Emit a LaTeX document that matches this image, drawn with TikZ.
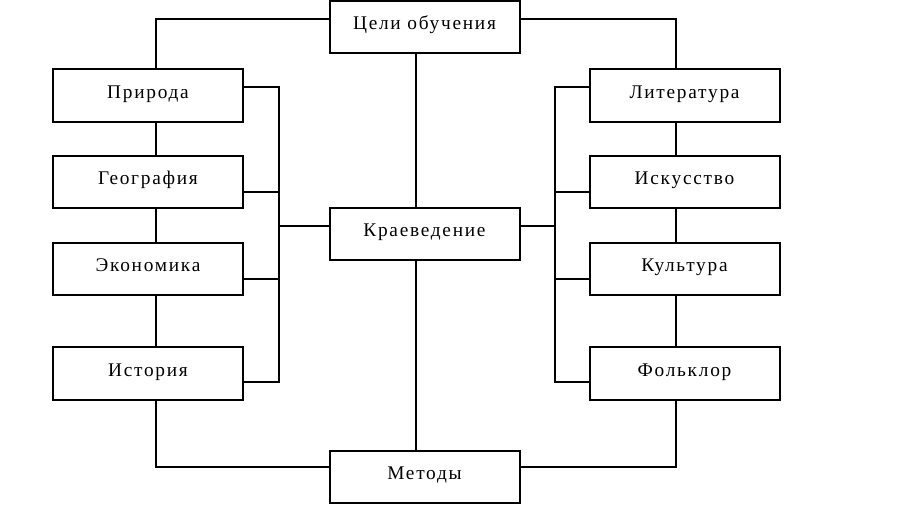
\documentclass[tikz,border=0pt]{standalone}
\usepackage{fontspec}
\setmainfont[LetterSpace=9]{Liberation Serif}
\begin{document}
\begin{tikzpicture}[x=0.75pt,y=-0.75pt,
  box/.style={draw,line width=1.5pt,rectangle,minimum width=142.5pt,minimum height=39.5pt,
    inner sep=0pt,text height=9.6pt,text depth=5.4pt,font=\fontsize{14.5}{17}\selectfont},
  conn/.style={line width=1.5pt}]
\useasboundingbox (0,0) rectangle (900,529);
\node[box] (goal) at (424.5,27) {Цели обучения};
\node[box] (kraev) at (424.5,234) {Краеведение};
\node[box] (met) at (424.5,477) {Методы};
\node[box] (pri) at (148,95.5) {Природа};
\node[box] (geo) at (148,182) {География};
\node[box] (eko) at (148,269) {Экономика};
\node[box] (ist) at (148,373.5) {История};
\node[box] (lit) at (684.5,95.5) {Литература};
\node[box] (isk) at (684.5,182) {Искусство};
\node[box] (kul) at (684.5,269) {Культура};
\node[box] (fol) at (684.5,373.5) {Фольклор};
\coordinate (lb) at (279,226);
\coordinate (rb) at (555,226);
% top
\draw[conn] (goal.west |- 0,19) -| (pri.north -| 156,0);
\draw[conn] (goal.east |- 0,19) -| (lit.north -| 676,0);
\draw[conn] (goal.south -| 416,0) -- (kraev.north -| 416,0);
\draw[conn] (kraev.south -| 416,0) -- (met.north -| 416,0);
% left column
\draw[conn] (pri.south -| 156,0) -- (geo.north -| 156,0);
\draw[conn] (geo.south -| 156,0) -- (eko.north -| 156,0);
\draw[conn] (eko.south -| 156,0) -- (ist.north -| 156,0);
\draw[conn] (ist.south -| 156,0) |- (met.west |- 0,467);
% right column
\draw[conn] (lit.south -| 676,0) -- (isk.north -| 676,0);
\draw[conn] (isk.south -| 676,0) -- (kul.north -| 676,0);
\draw[conn] (kul.south -| 676,0) -- (fol.north -| 676,0);
\draw[conn] (fol.south -| 676,0) |- (met.east |- 0,467);
% left bracket
\draw[conn] (pri.east |- 0,87) -| (lb |- 0,192) (lb |- 0,87) -- (lb |- 0,382) -- (ist.east |- 0,382);
\draw[conn] (geo.east |- 0,192) -- (lb |- 0,192);
\draw[conn] (eko.east |- 0,279) -- (lb |- 0,279);
\draw[conn] (lb) -- (kraev.west |- lb);
% right bracket
\draw[conn] (lit.west |- 0,87) -| (rb |- 0,192) (rb |- 0,87) -- (rb |- 0,382) -- (fol.west |- 0,382);
\draw[conn] (isk.west |- 0,192) -- (rb |- 0,192);
\draw[conn] (kul.west |- 0,279) -- (rb |- 0,279);
\draw[conn] (rb) -- (kraev.east |- rb);
\end{tikzpicture}
\end{document}
